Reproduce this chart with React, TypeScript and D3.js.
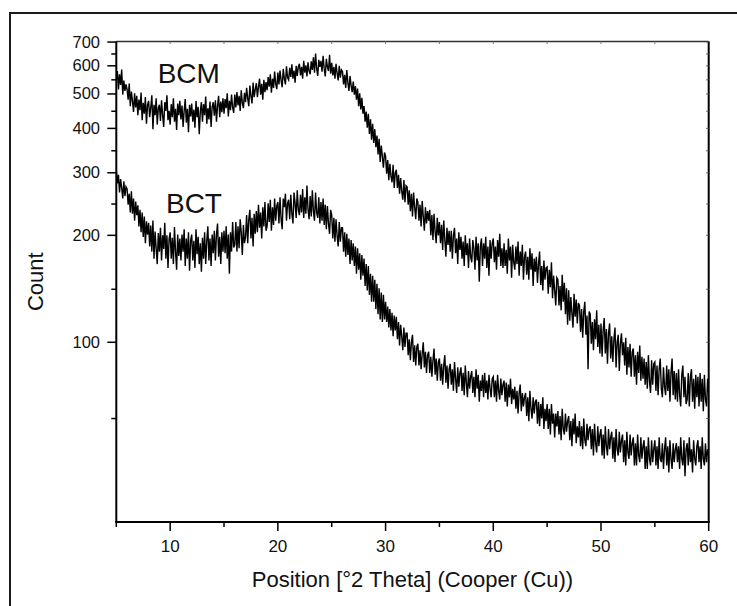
import React from "react";
import * as d3 from "d3";

// 2θ sampling grid of the two patterns
const THETA_START = 5;
const THETA_STEP = 0.1;

// Counts, one row per degree (5.0 … 59.9), then 60.0
const bcmCounts: number[] = [
  548, 580, 515, 568, 530, 586, 498, 545, 510, 532,
  515, 482, 535, 462, 508, 478, 445, 502, 458, 494,
  436, 482, 450, 505, 422, 472, 440, 490, 412, 466,
  478, 430, 458, 496, 398, 466, 436, 486, 410, 456,
  466, 420, 480, 436, 404, 474, 448, 496, 422, 448,
  410, 468, 430, 486, 418, 454, 396, 470, 436, 478,
  424, 464, 404, 448, 484, 415, 454, 390, 466, 432,
  470, 418, 452, 402, 478, 430, 460, 385, 446, 474,
  418, 468, 436, 492, 412, 456, 424, 476, 404, 460,
  474, 434, 480, 418, 464, 494, 430, 476, 444, 486,
  440, 484, 456, 502, 432, 478, 450, 498, 458, 442,
  498, 458, 506, 464, 494, 448, 512, 472, 456, 504,
  474, 520, 486, 462, 528, 494, 470, 538, 490, 514,
  536, 490, 524, 552, 498, 534, 482, 548, 506, 540,
  512, 558, 524, 568, 504, 552, 520, 578, 534, 516,
  574, 532, 582, 546, 522, 588, 552, 532, 598, 556,
  548, 592, 558, 606, 552, 582, 538, 600, 562, 596,
  608, 564, 596, 552, 620, 574, 602, 560, 614, 580,
  568, 618, 584, 634, 574, 650, 590, 562, 624, 596,
  620, 578, 640, 590, 560, 628, 596, 580, 645, 570,
  612, 564, 596, 552, 608, 572, 546, 600, 556, 584,
  578, 532, 566, 520, 584, 538, 510, 562, 528, 506,
  542, 498, 526, 482, 518, 462, 502, 452, 488, 440,
  462, 418, 446, 402, 440, 386, 424, 372, 412, 364,
  398, 354, 382, 338, 374, 322, 358, 334, 310, 342,
  334, 298, 326, 286, 318, 294, 282, 316, 272, 300,
  306, 272, 296, 262, 290, 266, 252, 286, 248, 276,
  274, 244, 268, 234, 262, 226, 264, 240, 222, 254,
  248, 220, 244, 212, 250, 226, 206, 240, 216, 234,
  220, 236, 200, 228, 194, 230, 205, 190, 224, 200,
  218, 190, 214, 182, 220, 194, 174, 210, 188, 206,
  180, 206, 172, 200, 210, 178, 196, 166, 204, 182,
  198, 172, 192, 164, 200, 176, 190, 162, 196, 174,
  168, 194, 184, 160, 198, 170, 190, 148, 186, 196,
  164, 190, 172, 198, 162, 186, 154, 194, 172, 190,
  196, 168, 186, 160, 194, 174, 202, 164, 184, 162,
  190, 164, 182, 156, 196, 170, 186, 152, 188, 168,
  160, 186, 166, 192, 154, 180, 164, 188, 150, 174,
  180, 155, 174, 150, 184, 160, 178, 144, 172, 158,
  174, 147, 166, 180, 145, 164, 140, 170, 150, 162,
  163, 137, 160, 143, 168, 133, 154, 140, 127, 152,
  150, 127, 144, 123, 155, 130, 147, 120, 142, 112,
  140, 115, 134, 121, 110, 137, 118, 132, 113, 129,
  127, 107, 124, 103, 122, 130, 105, 119, 84, 122,
  120, 99, 114, 95, 116, 102, 123, 97, 112, 93,
  113, 91, 108, 117, 93, 109, 87, 106, 113, 90,
  104, 88, 102, 110, 85, 100, 105, 83, 99, 106,
  92, 100, 86, 103, 81, 97, 85, 99, 80, 94,
  96, 80, 92, 76, 94, 82, 98, 78, 91, 79,
  90, 76, 88, 74, 92, 78, 72, 89, 76, 87,
  88, 73, 86, 71, 84, 90, 74, 70, 85, 75,
  71, 86, 73, 84, 68, 82, 90, 71, 83, 69,
  82, 68, 84, 71, 66, 81, 86, 70, 80, 67,
  69, 82, 66, 80, 84, 68, 79, 65, 81, 70,
  80, 66, 82, 68, 79, 64, 81, 69, 66, 79,
  72,
];

// Counts, same grid
const bctCounts: number[] = [
  305, 280, 296, 264, 288, 272, 254, 284, 258, 274,
  270, 244, 262, 232, 266, 230, 254, 220, 249, 228,
  243, 212, 236, 204, 232, 198, 226, 190, 219, 201,
  217, 186, 213, 180, 220, 172, 205, 184, 166, 203,
  180, 210, 170, 200, 183, 217, 172, 200, 162, 195,
  204, 172, 197, 166, 211, 180, 160, 201, 175, 196,
  170, 201, 180, 208, 164, 196, 172, 204, 159, 193,
  201, 170, 193, 162, 208, 177, 198, 166, 190, 158,
  197, 172, 204, 166, 193, 212, 170, 196, 164, 201,
  178, 206, 170, 201, 216, 174, 198, 166, 204, 180,
  206, 178, 212, 172, 201, 156, 204, 180, 218, 185,
  188, 218, 180, 212, 184, 222, 204, 176, 214, 190,
  198, 228, 190, 222, 236, 196, 224, 186, 230, 202,
  234, 204, 244, 210, 232, 196, 240, 212, 248, 206,
  212, 246, 218, 252, 206, 240, 214, 254, 220, 242,
  248, 216, 256, 222, 208, 254, 240, 262, 220, 246,
  252, 222, 260, 230, 216, 264, 246, 224, 268, 236,
  228, 260, 232, 270, 224, 256, 230, 276, 236, 222,
  258, 226, 268, 234, 220, 264, 232, 224, 256, 216,
  248, 220, 254, 214, 244, 208, 242, 216, 202, 236,
  228, 196, 224, 192, 222, 200, 186, 218, 192, 210,
  210, 180, 204, 174, 202, 176, 196, 166, 194, 170,
  190, 164, 186, 156, 184, 160, 178, 150, 176, 154,
  172, 144, 166, 140, 164, 136, 156, 130, 154, 130,
  150, 124, 146, 120, 142, 116, 138, 114, 136, 116,
  130, 114, 126, 110, 124, 108, 121, 104, 119, 108,
  118, 102, 114, 98, 112, 104, 95, 110, 97, 106,
  106, 92, 102, 89, 100, 105, 88, 98, 86, 97,
  99, 86, 95, 84, 93, 100, 85, 94, 82, 92,
  94, 82, 91, 80, 89, 96, 81, 90, 78, 88,
  90, 78, 87, 76, 86, 92, 77, 86, 74, 84,
  87, 76, 84, 73, 88, 79, 72, 85, 75, 82,
  85, 73, 82, 71, 86, 77, 70, 83, 74, 80,
  83, 72, 80, 70, 84, 74, 81, 68, 78, 73,
  81, 70, 82, 72, 78, 69, 81, 74, 70, 79,
  80, 70, 78, 68, 81, 73, 69, 79, 71, 76,
  78, 68, 77, 66, 76, 70, 79, 67, 74, 69,
  75, 65, 73, 63, 72, 76, 64, 72, 66, 70,
  72, 62, 70, 60, 73, 65, 61, 70, 63, 68,
  69, 59, 68, 58, 67, 61, 70, 57, 65, 60,
  67, 57, 65, 55, 67, 59, 63, 54, 63, 58,
  64, 55, 62, 53, 65, 57, 55, 63, 56, 60,
  62, 53, 60, 51, 61, 55, 63, 52, 58, 54,
  60, 51, 58, 50, 61, 53, 51, 59, 53, 57,
  58, 50, 57, 48, 59, 52, 49, 58, 51, 55,
  57, 48, 55, 47, 58, 51, 48, 57, 50, 54,
  56, 47, 54, 46, 57, 50, 48, 56, 49, 53,
  55, 46, 53, 45, 56, 49, 47, 55, 48, 52,
  54, 45, 52, 45, 55, 48, 46, 54, 47, 51,
  53, 44, 51, 44, 54, 47, 45, 53, 46, 50,
  53, 45, 51, 44, 54, 47, 46, 52, 44, 50,
  54, 45, 51, 43, 53, 47, 44, 52, 46, 50,
  52, 46, 51, 44, 54, 47, 45, 53, 42, 50,
  52, 45, 54, 46, 50, 43, 53, 47, 45, 51,
  53, 46, 51, 44, 54, 47, 45, 52, 46, 50,
  48,
];

const xMajorTicks = [10, 20, 30, 40, 50, 60];
const xMinorTicks = [5, 15, 25, 35, 45, 55];
const yMajorTicks = [100, 200, 300, 400, 500, 600, 700];
const yMinorTicks = [61, 141, 245, 346, 447, 548, 648];

const seriesLabels = [
  { text: "BCM", theta: 8.84, count: 538 },
  { text: "BCT", theta: 9.61, count: 231 },
];

const xTitle = "Position [°2 Theta] (Cooper (Cu))";
const yTitle = "Count";

const W = 737;
const H = 606;
const L = 116.3;
const R = 708.7;
const T = 41.5;
const B = 522;
const FONT = "'Liberation Sans', Arial, Helvetica, sans-serif";

export default function App() {
  const x = d3.scaleLinear().domain([5, 60]).range([L, R]);
  const y = d3.scaleLog().domain([31.2, 702.5]).range([B, T]);

  const toPts = (arr: number[]) =>
    arr.map((c, i) => [THETA_START + i * THETA_STEP, c] as [number, number]);

  const line = d3
    .line<[number, number]>()
    .x((d) => x(d[0]))
    .y((d) => y(d[1]));

  const series = [toPts(bcmCounts), toPts(bctCounts)];

  return (
    <svg
      width={W}
      height={H}
      style={{ position: "absolute", left: 0, top: 0, background: "#fff" }}
      fontFamily={FONT}
    >
      <rect x={0} y={0} width={W} height={H} fill="#fff" />
      {/* outer frame */}
      <rect x={10} y={13} width={740} height={620} fill="none" stroke="#1a1a1a" strokeWidth={2} />

      <defs>
        <clipPath id="plotclip">
          <rect x={L} y={T} width={R - L} height={B - T} />
        </clipPath>
      </defs>

      {/* curves */}
      <g clipPath="url(#plotclip)">
        {series.map((s, i) => (
          <path key={i} d={line(s) || ""} fill="none" stroke="#000" strokeWidth={1.4} strokeLinejoin="miter" />
        ))}
      </g>

      {/* top axis */}
      <line x1={L} x2={R} y1={T} y2={T} stroke="#333" strokeWidth={1.5} />
      {[...xMajorTicks, ...xMinorTicks].map((t) => (
        <line key={"tt" + t} x1={x(t)} x2={x(t)} y1={T} y2={T + 2.5} stroke="#777" strokeWidth={1} />
      ))}
      {/* right axis */}
      <line x1={R} x2={R} y1={T} y2={B} stroke="#000" strokeWidth={2} />
      {[...yMajorTicks, ...yMinorTicks].map((t) => (
        <line key={"rt" + t} x1={R} x2={R - 2.5} y1={y(t)} y2={y(t)} stroke="#555" strokeWidth={1} />
      ))}

      {/* bottom axis */}
      <line x1={L - 1} x2={R + 1} y1={B} y2={B} stroke="#000" strokeWidth={2} />
      {xMajorTicks.map((t) => (
        <g key={"xm" + t}>
          <line x1={x(t)} x2={x(t)} y1={B} y2={B + 9} stroke="#000" strokeWidth={1.5} />
          <text x={x(t)} y={552} textAnchor="middle" fontSize={17} fill="#111">
            {t}
          </text>
        </g>
      ))}
      {xMinorTicks.map((t) => (
        <line key={"xn" + t} x1={x(t)} x2={x(t)} y1={B} y2={B + 5} stroke="#000" strokeWidth={1.5} />
      ))}

      {/* left axis */}
      <line x1={L} x2={L} y1={T} y2={B + 1} stroke="#000" strokeWidth={2} />
      {yMajorTicks.map((t) => (
        <g key={"ym" + t}>
          <line x1={L} x2={L - 9} y1={y(t)} y2={y(t)} stroke="#000" strokeWidth={1.5} />
          <text x={100} y={y(t) + 5.5} textAnchor="end" fontSize={16.5} fill="#111">
            {t}
          </text>
        </g>
      ))}
      {yMinorTicks.map((t) => (
        <line key={"yn" + t} x1={L} x2={L - 5} y1={y(t)} y2={y(t)} stroke="#000" strokeWidth={1.5} />
      ))}

      {/* series labels */}
      {seriesLabels.map((l) => (
        <text key={l.text} x={x(l.theta)} y={y(l.count)} fontSize={28} fill="#111">
          {l.text}
        </text>
      ))}

      {/* axis titles */}
      <text x={(L + R) / 2} y={587} textAnchor="middle" fontSize={22} fill="#111">
        {xTitle}
      </text>
      <text
        transform={`translate(43, ${(T + B) / 2}) rotate(-90)`}
        textAnchor="middle"
        fontSize={22}
        fill="#111"
      >
        {yTitle}
      </text>
    </svg>
  );
}
